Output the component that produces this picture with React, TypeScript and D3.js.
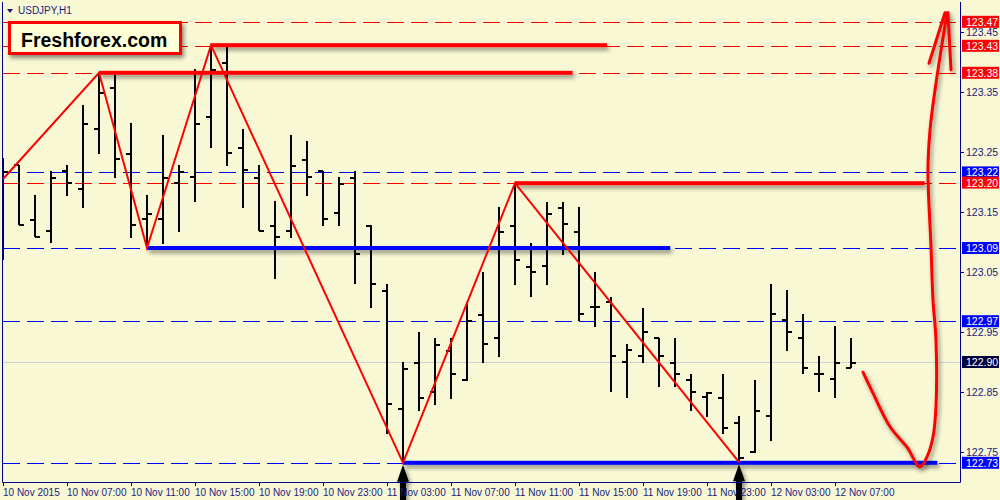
import React from 'react';
import * as d3 from 'd3';

const symbolTitle = 'USDJPY,H1';
const logoText = 'Freshforex.com';

const timeLabels = [
  '10 Nov 2015', '10 Nov 07:00', '10 Nov 11:00', '10 Nov 15:00', '10 Nov 19:00', '10 Nov 23:00',
  '11 Nov 03:00', '11 Nov 07:00', '11 Nov 11:00', '11 Nov 15:00', '11 Nov 19:00', '11 Nov 23:00',
  '12 Nov 03:00', '12 Nov 07:00',
];
const labelEvery = 4;

const opens = [
  123.212, 123.228, 123.137, 123.118, 123.218, 123.188, 123.288, 123.357, 123.247, 123.138,
  123.138, 123.198, 123.208, 123.308, 123.398, 123.257, 123.207, 123.127, 123.118, 123.237,
  123.218, 123.148, 123.207, 123.127, 123.018, 122.822, 122.898, 122.850, 122.918, 122.870,
  122.978, 122.940, 123.127, 123.058, 123.060, 123.157, 123.117, 122.992, 123.000, 122.900,
  122.910, 122.940, 122.898, 122.870, 122.842, 122.840, 122.798, 122.750, 122.810, 122.970,
  122.940, 122.880, 122.872, 122.890,
];
const highs = [
  123.240, 123.228, 123.178, 123.218, 123.228, 123.328, 123.382, 123.378, 123.298, 123.178,
  123.278, 123.228, 123.388, 123.428, 123.425, 123.288, 123.228, 123.168, 123.278, 123.268,
  123.218, 123.208, 123.218, 123.128, 123.030, 122.900, 122.950, 122.940, 122.940, 123.000,
  123.050, 123.158, 123.198, 123.098, 123.167, 123.167, 123.158, 123.050, 123.008, 122.930,
  122.990, 122.940, 122.940, 122.880, 122.850, 122.880, 122.810, 122.870, 123.030, 123.020,
  122.980, 122.910, 122.960, 122.940,
];
const lows = [
  123.070, 123.128, 123.108, 123.098, 123.177, 123.157, 123.247, 123.207, 123.107, 123.092,
  123.097, 123.117, 123.167, 123.257, 123.227, 123.157, 123.118, 123.038, 123.107, 123.177,
  123.127, 123.127, 123.030, 122.990, 122.780, 122.732, 122.818, 122.828, 122.838, 122.868,
  122.898, 122.908, 123.028, 123.008, 123.028, 123.078, 122.968, 122.958, 122.850, 122.840,
  122.898, 122.858, 122.858, 122.818, 122.808, 122.780, 122.733, 122.748, 122.768, 122.918,
  122.880, 122.850, 122.840, 122.890,
];
const closes = [
  123.217, 123.128, 123.108, 123.207, 123.198, 123.297, 123.348, 123.238, 123.128, 123.147,
  123.207, 123.217, 123.297, 123.387, 123.248, 123.220, 123.118, 123.108, 123.227, 123.208,
  123.138, 123.197, 123.080, 123.030, 122.830, 122.888, 122.840, 122.928, 122.880, 122.968,
  122.930, 123.117, 123.070, 123.050, 123.147, 123.130, 122.980, 122.992, 122.910, 122.920,
  122.950, 122.910, 122.880, 122.850, 122.848, 122.790, 122.740, 122.818, 122.980, 122.950,
  122.890, 122.880, 122.898, 122.898,
];

const priceTicks = [122.75, 122.85, 122.95, 123.05, 123.15, 123.25, 123.35, 123.45];

// horizontal level lines (dashed, full width) with labels on the price axis
const levelPrices = [123.467, 123.427, 123.382, 123.216, 123.199, 123.09, 122.968, 122.732];
const levelKinds = ['res', 'res', 'res', 'sup', 'res', 'sup', 'sup', 'sup'];
const bidPrice = 122.9;

// zigzag
const zigzagIdx = [0, 6, 9, 13, 25, 32, 46];
const zigzagPrice = [123.205, 123.382, 123.09, 123.428, 122.732, 123.198, 122.733];

// thick trend levels
const segStart = [6, 13, 32, 9, 25];
const segEnd = [35.6, 37.75, 57.6, 41.7, 58.4];
const segPrice = [123.382, 123.428, 123.198, 123.09, 122.732];
const segKind = ['res', 'res', 'res', 'sup', 'sup'];

// arrows under lows
const arrowIdx = [25, 46];
const arrowPrice = [122.732, 122.733];

// freehand forecast sketch
const sketchIdx = [53.75, 54.375, 55.44, 56.5, 57.31, 57.75, 58.125, 58.31, 58.31, 58.125, 58.0, 57.81, 57.94, 58.25, 59.0];
const sketchPrice = [122.883, 122.848, 122.792, 122.758, 122.725, 122.742, 122.775, 122.825, 122.937, 123.003, 123.092, 123.22, 123.287, 123.353, 123.482];
const wingIdx = [57.875, 58.875, 59.06, 59.25];
const wingPrice = [123.398, 123.482, 123.482, 123.387];

const BG = '#F8F8D4';
const AXIS = '#000090';
const TXT = '#1a1a80';
const RED = '#FF0000';
const BLUE = '#0000FF';
const FONT = '"Liberation Sans", Arial, sans-serif';

export default function App() {
  const W = 1000;
  const H = 500;
  const left = 2.5;
  const right = 960;
  const top = 2;
  const bottom = 482;

  const x = d3.scaleLinear().domain([0, 53]).range([3, 851]);
  const y = d3.scaleLinear().domain([122.75, 123.45]).range([452, 32]);

  const zig = d3.line<number>().x((d, i) => x(zigzagIdx[i])).y((d) => y(d))(zigzagPrice) || '';
  const sketch = d3
    .line<number>()
    .x((d, i) => x(sketchIdx[i]))
    .y((d) => y(d))
    .curve(d3.curveCatmullRom.alpha(0.5))(sketchPrice) || '';
  const wingL = d3.line<number>().x((d, i) => x(wingIdx[i])).y((d) => y(d))(wingPrice.slice(0, 2)) || '';
  const wingR = d3.line<number>().x((d, i) => x(wingIdx[i + 2])).y((d) => y(d))(wingPrice.slice(2)) || '';

  const colorOf = (k: string) => (k === 'res' ? RED : BLUE);
  const py = (p: number) => Math.round(y(p)) + 0.5;

  return (
    <div style={{ position: 'fixed', left: 0, top: 0, width: W, height: H, background: BG }}>
      <svg width={W} height={H} style={{ display: 'block' }}>
        <defs>
          <filter id="sh" filterUnits="userSpaceOnUse" x={0} y={0} width={W} height={H}>
            <feDropShadow dx="2" dy="3" stdDeviation="2" floodColor="#000" floodOpacity="0.45" />
          </filter>
          <clipPath id="plot">
            <rect x={left} y={top} width={right - left} height={bottom - top} />
          </clipPath>
        </defs>
        <rect x={0} y={0} width={W} height={H} fill={BG} />

        <g clipPath="url(#plot)">
          {/* dashed levels */}
          {levelPrices.map((p, i) => (
            <line
              key={'lv' + i}
              x1={left}
              x2={right}
              y1={py(p)}
              y2={py(p)}
              stroke={colorOf(levelKinds[i])}
              strokeWidth={1}
              strokeDasharray="17,7"
              shapeRendering="crispEdges"
            />
          ))}
          {/* bid line */}
          <line x1={left} x2={right} y1={py(bidPrice)} y2={py(bidPrice)} stroke="#D0D0D0" strokeWidth={1} shapeRendering="crispEdges" />

          {/* bars */}
          {opens.map((o, i) => {
            const cx = x(i);
            return (
              <g key={'b' + i} stroke="#000" strokeWidth={2} shapeRendering="crispEdges">
                <line x1={cx} x2={cx} y1={y(highs[i])} y2={y(lows[i])} />
                <line x1={cx - 5} x2={cx} y1={y(o)} y2={y(o)} />
                <line x1={cx} x2={cx + 5} y1={y(closes[i])} y2={y(closes[i])} />
              </g>
            );
          })}

          {/* thick levels */}
          {segPrice.map((p, i) => (
            <rect
              key={'sg' + i}
              x={x(segStart[i])}
              width={x(segEnd[i]) - x(segStart[i])}
              y={y(p) - 2}
              height={4}
              fill={colorOf(segKind[i])}
              filter="url(#sh)"
            />
          ))}

          {/* zigzag */}
          <path d={zig} fill="none" stroke={RED} strokeWidth={2} />

          {/* sketch */}
          <g filter="url(#sh)" fill="none" stroke={RED} strokeWidth={3} strokeLinecap="round" strokeLinejoin="round">
            <path d={sketch} />
            <path d={wingL} />
            <path d={wingR} />
          </g>
        </g>

        {/* arrows */}
        {arrowIdx.map((a, i) => {
          const ax = x(a);
          const ay = y(arrowPrice[i]) + 2;
          const d = `M${ax},${ay} L${ax + 6},${ay + 17} L${ax + 3},${ay + 17} L${ax + 3},${ay + 36} L${ax - 3},${ay + 36} L${ax - 3},${ay + 17} L${ax - 6},${ay + 17} Z`;
          return <path key={'ar' + i} d={d} fill="#000" filter="url(#sh)" />;
        })}

        {/* frame */}
        <path d={`M${left},${top} V${bottom + 0.5} H${right + 0.5} V${top}`} fill="none" stroke={AXIS} strokeWidth={1} />

        {/* price axis ticks */}
        {priceTicks.map((t) => (
          <g key={'pt' + t}>
            <line x1={right} x2={right + 4} y1={py(t)} y2={py(t)} stroke={AXIS} />
            <text x={966} y={y(t) + 4} fontFamily={FONT} fontSize={10.5} fill={TXT}>
              {t.toFixed(2)}
            </text>
          </g>
        ))}

        {/* level labels */}
        {levelPrices.map((p, i) => (
          <g key={'ll' + i}>
            <rect x={962} y={y(p) - 6} width={37} height={12} fill={colorOf(levelKinds[i])} />
            <text x={966} y={y(p) + 4} fontFamily={FONT} fontSize={10.5} fill="#fff">
              {p.toFixed(2)}
            </text>
          </g>
        ))}
        <g>
          <rect x={962} y={y(bidPrice) - 6} width={37} height={12} fill="#00003C" />
          <text x={966} y={y(bidPrice) + 4} fontFamily={FONT} fontSize={10.5} fill="#fff">
            {bidPrice.toFixed(2)}
          </text>
        </g>

        {/* time axis */}
        {timeLabels.map((lab, i) => {
          const tx = x(i * labelEvery);
          return (
            <g key={'tl' + i}>
              <line x1={Math.round(tx) + 0.5} x2={Math.round(tx) + 0.5} y1={bottom} y2={bottom + 4} stroke={AXIS} />
              <text x={tx} y={496} fontFamily={FONT} fontSize={10} fill={TXT}>
                {lab}
              </text>
            </g>
          );
        })}

        {/* title */}
        <path d="M7,9 L13,9 L10,13 Z" fill={TXT} />
        <text x={18} y={14} fontFamily={FONT} fontSize={10} fill={TXT}>
          {symbolTitle}
        </text>

        {/* logo */}
        <rect x={9.5} y={22.5} width={171} height={31} fill="#FFFFD8" stroke={RED} strokeWidth={3} filter="url(#sh)" />
        <text x={21} y={47} fontFamily={FONT} fontWeight="bold" fontSize={19.5} fill="#000">
          {logoText}
        </text>
      </svg>
    </div>
  );
}
